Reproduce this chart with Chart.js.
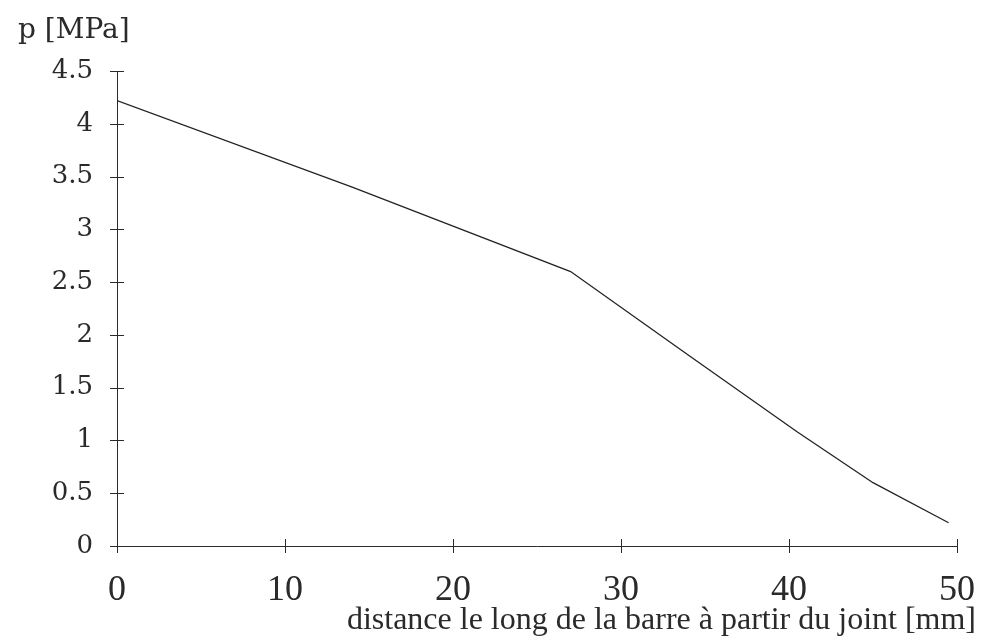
<!DOCTYPE html>
<html>
<head>
<meta charset="utf-8">
<script src="https://cdn.jsdelivr.net/npm/chart.js@4"></script>
<style>
  html, body { margin: 0; padding: 0; background: #fff; }
  #wrap { width: 982px; height: 639px; }
</style>
</head>
<body>
<div id="wrap"><canvas id="pChart" width="982" height="639"></canvas></div>
<script>
// distance le long de la barre [mm] et pression [MPa]
const distance = [0, 14, 27, 34, 40.5, 45, 49.5];
const pression = [4.22, 3.4, 2.6, 1.81, 1.08, 0.6, 0.22];
const yLabel = 'p [MPa]';
const xLabel = 'distance le long de la barre à partir du joint [mm]';

const tickFont = '"DejaVu Serif", "Liberation Serif", serif';
const titleFont = '"Liberation Serif", "DejaVu Serif", serif';
const ink = '#2a2a2a';

// petites graduations en croix sur les axes + titres
const crossTicks = {
  id: 'crossTicks',
  afterDraw(chart) {
    const c = chart.ctx, xs = chart.scales.x, ys = chart.scales.y;
    c.save();
    c.strokeStyle = ink;
    c.lineWidth = 1;
    xs.ticks.forEach(t => {
      const px = Math.round(xs.getPixelForValue(t.value)) + 0.5;
      c.beginPath(); c.moveTo(px, ys.bottom - 7); c.lineTo(px, ys.bottom + 7); c.stroke();
    });
    ys.ticks.forEach(t => {
      const py = Math.round(ys.getPixelForValue(t.value)) + 0.5;
      c.beginPath(); c.moveTo(xs.left - 7, py); c.lineTo(xs.left + 7, py); c.stroke();
    });
    c.fillStyle = ink;
    c.textBaseline = 'alphabetic';
    c.textAlign = 'left';
    c.font = '28px ' + tickFont;
    c.fillText(yLabel, 18, 38);
    c.textAlign = 'right';
    c.font = '32px ' + titleFont;
    c.fillText(xLabel, 976, 629);
    c.restore();
  }
};

const ctx = document.getElementById('pChart');
const chart = new Chart(ctx, {
  type: 'line',
  data: {
    datasets: [{
      data: distance.map((d, i) => ({ x: d, y: pression[i] })),
      borderColor: '#222',
      borderWidth: 1.3,
      pointRadius: 0,
      tension: 0,
      fill: false
    }]
  },
  options: {
    responsive: false,
    animation: false,
    layout: { padding: { left: 18, right: 25, top: 71, bottom: 0 } },
    plugins: { legend: { display: false }, tooltip: { enabled: false } },
    scales: {
      x: {
        type: 'linear',
        min: 0, max: 50,
        ticks: { stepSize: 10, color: ink, padding: 23, font: { family: titleFont, size: 36 } },
        grid: { drawOnChartArea: false, drawTicks: false },
        border: { display: true, color: ink, width: 1 },
        afterFit(s) { s.height = 93; s.paddingLeft = 0; s.paddingRight = 0; }
      },
      y: {
        min: 0, max: 4.5,
        ticks: {
          stepSize: 0.5, color: ink, padding: 24,
          font: { family: tickFont, size: 26 },
          callback: v => String(v)
        },
        grid: { drawOnChartArea: false, drawTicks: false },
        border: { display: true, color: ink, width: 1 },
        afterFit(s) { s.width = 99; s.paddingTop = 0; s.paddingBottom = 0; }
      }
    }
  },
  plugins: [crossTicks]
});
</script>
</body>
</html>
